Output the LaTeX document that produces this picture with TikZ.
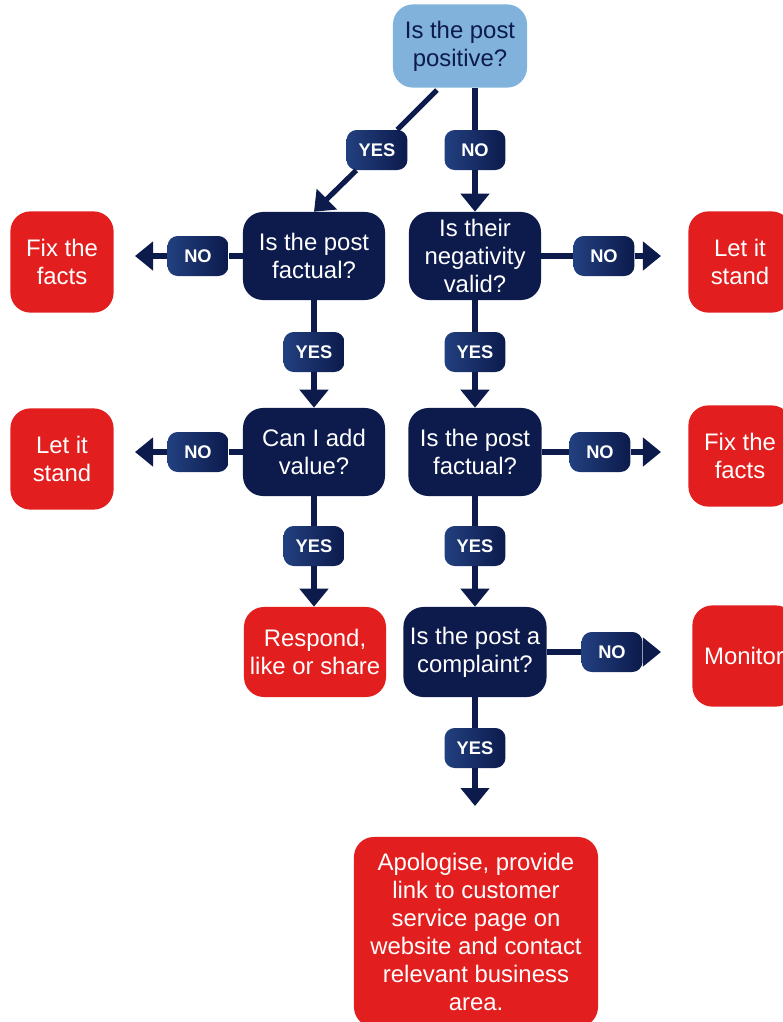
\documentclass[tikz,border=0pt]{standalone}
\usepackage{fontspec}
\setmainfont{Liberation Sans}
\usetikzlibrary{shapes,arrows,positioning,calc,arrows.meta}

\definecolor{navy}{HTML}{0C1A4C}
\definecolor{navylight}{HTML}{22407F}
\definecolor{skyq}{HTML}{80B2DB}
\definecolor{redbox}{HTML}{E21E1E}

\tikzset{
    question/.style={rectangle, rounded corners=0.5cm, fill=navy, text=white, align=center,
        minimum width=3.55cm, minimum height=2.2cm, inner sep=1pt, font=\fontsize{17}{20}\selectfont},
    action/.style={question, fill=redbox},
    sideaction/.style={action, minimum width=2.58cm, minimum height=2.53cm},
    answer/.style={rectangle, rounded corners=0.25cm, left color=navylight, right color=navy,
        text=white, minimum width=1.52cm, minimum height=1.0cm, inner sep=1pt,
        font=\bfseries\fontsize{13}{15}\selectfont},
    link/.style={draw=navy, line width=0.13cm},
    flow/.style={link, -{Triangle[width=0.7cm,length=0.45cm]}},
}

\begin{document}
\begin{tikzpicture}[x=0.025cm, y=-0.025cm]
    \useasboundingbox (0,0) rectangle (783,1022);
    \clip (0,0) rectangle (783,1022);

    % Start
    \node[question, fill=skyq, text=navy, minimum width=3.35cm, minimum height=2.08cm] (start) at (460,46) {Is the post\\positive?};
    \node[answer] (yes0) at (377,150) {YES};
    \node[answer] (no0) at (475,150) {NO};

    % Left branch
    \node[question] (factL) at (314,256) {Is the post\\factual?};
    \node[answer] (noL1) at (198,256) {NO};
    \node[sideaction] (fixL) at (62,262) {Fix the\\facts};
    \node[answer] (yesL1) at (314,352) {YES};
    \node[question] (value) at (314,452) {Can I add\\value?};
    \node[answer] (noL2) at (198,452) {NO};
    \node[sideaction] (standL) at (62,459) {Let it\\stand};
    \node[answer] (yesL2) at (314,546) {YES};
    \node[action, minimum height=2.25cm] (respond) at (315,652) {Respond,\\like or share};

    % Right branch
    \node[question, minimum width=3.3cm] (valid) at (475,256) {Is their\\negativity\\valid?};
    \node[answer] (noR1) at (604,256) {NO};
    \node[sideaction] (standR) at (740,262) {Let it\\stand};
    \node[answer] (yesR1) at (475,352) {YES};
    \node[question, minimum width=3.33cm] (factR) at (475,452) {Is the post\\factual?};
    \node[answer] (noR2) at (600,452) {NO};
    \node[sideaction] (fixR) at (740,456) {Fix the\\facts};
    \node[answer] (yesR2) at (475,546) {YES};
    \node[question, minimum width=3.58cm, minimum height=2.25cm] (complaint) at (475,652) {Is the post a\\complaint?};
    \node[answer] (noR3) at (612,652) {NO};
    \node[sideaction] (monitor) at (744,656) {Monitor};
    \node[answer] (yesR3) at (475,748) {YES};
    \node[action, minimum width=6.1cm, minimum height=4.75cm] (apology) at (476,932)
        {Apologise, provide\\link to customer\\service page on\\website and contact\\relevant business\\area.};

    % Free ends
    \coordinate (diag) at (437,90);
    \coordinate (tipL1) at (135,256);
    \coordinate (tipL2) at (135,452);
    \coordinate (tipR1) at (661,256);
    \coordinate (tipR2) at (661,452);
    \coordinate (tipR3) at (661,652);
    \coordinate (tipB) at (475,806);

    % Connectors
    \draw[link] (diag) -- (yes0);
    \draw[flow] (yes0) -- (factL.north);
    \draw[link] (no0 |- start.south) -- (no0);
    \draw[flow] (no0) -- (valid);

    \draw[link] (factL) -- (noL1);
    \draw[flow] (noL1) -- (tipL1);
    \draw[link] (factL) -- (yesL1);
    \draw[flow] (yesL1) -- (value);
    \draw[link] (value) -- (noL2);
    \draw[flow] (noL2) -- (tipL2);
    \draw[link] (value) -- (yesL2);
    \draw[flow] (yesL2) -- (yesL2 |- respond.north);

    \draw[link] (valid) -- (noR1);
    \draw[flow] (noR1) -- (tipR1);
    \draw[link] (valid) -- (yesR1);
    \draw[flow] (yesR1) -- (factR);
    \draw[link] (factR) -- (noR2);
    \draw[flow] (noR2) -- (tipR2);
    \draw[link] (factR) -- (yesR2);
    \draw[flow] (yesR2) -- (complaint);
    \draw[link] (complaint) -- (noR3);
    \draw[flow] (noR3) -- (tipR3);
    \draw[link] (complaint) -- (yesR3);
    \draw[flow] (yesR3) -- (tipB);
\end{tikzpicture}
\end{document}
